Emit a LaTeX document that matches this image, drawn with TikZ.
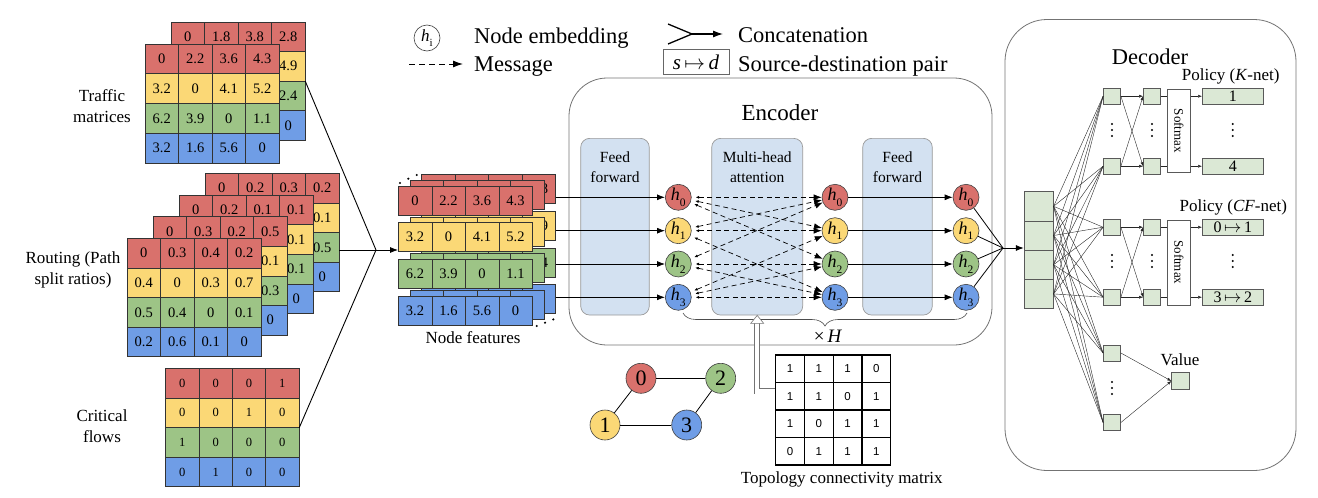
\documentclass[tikz,border=0pt]{standalone}
\usepackage{fontspec}
\setmainfont{Liberation Serif}
\newfontfamily\sansf{Liberation Sans}
\usetikzlibrary{arrows.meta,decorations.pathreplacing,calc}
\definecolor{row0}{HTML}{D9716C}
\definecolor{row1}{HTML}{FBD876}
\definecolor{row2}{HTML}{9DC486}
\definecolor{row3}{HTML}{6F9DE6}
\definecolor{ffblue}{HTML}{D3E1F1}
\definecolor{decg}{HTML}{DBE8D5}
\newcommand{\cellfont}{\fontsize{14.5}{16}\selectfont}
\newcommand{\cellrow}[7]{%
  \foreach \cv [count=\ci from 0] in #7 {
    \node[cell, fill=#6, minimum width=#4pt, minimum height=#5pt] (#1-\ci) at ({#2+(\ci+0.5)*#4},{#3+0.5*#5}) {\cv};
  }}
\newcommand{\cellmat}[6]{%
  \foreach \rv [count=\ri from 0] in {#6} {
    \cellrow{#1-\ri}{#2}{#3+\ri*#5}{#4}{#5}{row\ri}{\rv}
  }}
\newcommand{\hsub}[1]{\textit{h}\raisebox{-0.32em}{\fontsize{11.5}{11.5}\selectfont #1}}
\newcommand{\vdotsat}[3]{%
  \coordinate (#1) at (#2,#3);
  \foreach \dd in {-6,0,6} \fill ($(#1)+(0,\dd)$) circle[radius=1.1pt];}
\begin{document}
\begin{tikzpicture}[x=1pt,y=-1pt,
  cell/.style={draw=black!80, line width=0.6pt, inner sep=0pt, font=\cellfont},
  lbl/.style={align=center, font=\fontsize{17}{21}\selectfont},
  hnode/.style={circle, draw=black!75, line width=0.6pt, minimum size=26pt, inner sep=0pt, font=\fontsize{18}{18}\selectfont},
  block/.style={draw=black!40, fill=ffblue, rounded corners=9pt, line width=0.7pt, inner sep=0pt},
  blocktxt/.style={align=center, font=\fontsize{15.5}{19.5}\selectfont},
  feat/.style={-{Latex[length=8pt,width=6pt]}, line width=0.8pt},
  feeder/.style={line width=0.9pt},
  msgarrow/.style={dash pattern=on 5pt off 3.5pt, line width=0.7pt, {Latex[length=3.5pt,width=3pt]}-{Latex[length=8pt,width=6pt]}},
  frame/.style={draw=black!55, line width=0.8pt, inner sep=0pt},
  gnode/.style={circle, draw=black!75, line width=0.6pt, minimum size=30pt, inner sep=0pt, font=\fontsize{22}{22}\selectfont},
  tmcell/.style={draw=black, line width=1.1pt, fill=white, inner sep=0pt, minimum width=28.75pt, minimum height=27.5pt, font=\sansf\fontsize{11.5}{13}\selectfont},
  dsq/.style={draw=black!65, fill=decg, line width=0.5pt, inner sep=0pt, minimum width=17.3pt, minimum height=15.7pt},
  nn/.style={line width=0.4pt, draw=black!85},
  nnarrow/.style={nn, -{Latex[length=4pt,width=3pt]}},
  legtxt/.style={font=\fontsize{22.5}{24}\selectfont, inner sep=0pt},
  xbrace/.style={decorate, decoration={brace, amplitude=13pt, mirror}, line width=0.6pt, draw=black!70},
  hollow/.style={double=white, double distance=4.5pt, line width=0.6pt, draw=black!55},
  ptxt/.style={font=\fontsize{17}{17}\selectfont},
  otxt/.style={font=\fontsize{16}{16}\selectfont}
]
\useasboundingbox (0,0) rectangle (1318,498);

% ---------- legend ----------
\node[hnode, minimum size=26pt, fill=white, font=\fontsize{17}{17}\selectfont] (leg-h) at (427,38) {\textit{h}\raisebox{-0.3em}{\fontsize{11}{11}\selectfont i}};
\node[legtxt, anchor=base west] (leg-ne) at (474,43) {Node embedding};
\coordinate (leg-m1) at (409,64);
\coordinate (leg-m2) at (463,64);
\draw[dash pattern=on 6pt off 4pt, line width=1pt, -{Latex[length=10pt,width=7pt]}] (leg-m1) -- (leg-m2);
\node[legtxt, anchor=base west] (leg-msg) at (474,71) {Message};
\coordinate (lc1) at (668,24);
\coordinate (lc2) at (668,44);
\coordinate (lcm) at (692,34);
\coordinate (lce) at (723,34);
\draw[line width=1.3pt] (lc1) -- (lcm) -- (lc2);
\draw[line width=1.1pt, -{Latex[length=10pt,width=7pt]}] (lcm) -- (lce);
\node[legtxt, anchor=base west] (leg-cat) at (738,42) {Concatenation};
\node[draw=black!60, line width=0.8pt, minimum width=66pt, minimum height=25pt, inner sep=0pt, font=\fontsize{21}{21}\selectfont] (leg-sd) at (696,62) {\textit{s}\,$\mapsto$\,\textit{d}};
\node[legtxt, anchor=base west] (leg-sdt) at (738,71) {Source-destination pair};

% ---------- input matrices ----------
\cellmat{tb}{171}{22}{33.5}{29.5}{{0,1.8,3.8,2.8},{{},{},{},4.9},{{},{},{},2.4},{{},{},{},0}}
\cellmat{tf}{145}{44}{33.5}{29.75}{{0,2.2,3.6,4.3},{3.2,0,4.1,5.2},{6.2,3.9,0,1.1},{3.2,1.6,5.6,0}}
\node[lbl] (lab-tm) at (102,106) {Traffic\\matrices};

\cellmat{r4}{205}{173.3}{33.5}{29.6}{{0,0.2,0.3,0.2},{{},{},{},0.1},{{},{},{},0.5},{{},{},{},0}}
\cellmat{r3}{179}{195}{33.5}{29.6}{{0,0.2,0.1,0.1},{{},{},{},0.1},{{},{},{},0.1},{{},{},{},0}}
\cellmat{r2}{153}{216.6}{33.5}{29.6}{{0,0.3,0.2,0.5},{{},{},{},0.1},{{},{},{},0.3},{{},{},{},0}}
\cellmat{r1}{127}{238.3}{33.5}{29.6}{{0,0.3,0.4,0.2},{0.4,0,0.3,0.7},{0.5,0.4,0,0.1},{0.2,0.6,0.1,0}}
\node[lbl] (lab-rt) at (73,270) {Routing (Path\\split ratios)};

\renewcommand{\cellfont}{\fontsize{12.5}{14}\selectfont}
\cellmat{cf}{165.7}{368.3}{33.3}{29.6}{{0,0,0,1},{0,0,1,0},{1,0,0,0},{0,1,0,0}}
\renewcommand{\cellfont}{\fontsize{14.5}{16}\selectfont}
\node[lbl] (lab-cf) at (102,426) {Critical\\flows};

% ---------- node features ----------
\cellrow{nf2-0}{421.7}{174.6}{33.5}{29}{row0}{{{},{},{},2.8}}
\cellrow{nf2-1}{421.7}{211.3}{33.5}{29}{row1}{{{},{},{},4.9}}
\cellrow{nf2-2}{421.7}{247.9}{33.5}{29}{row2}{{{},{},{},2.4}}
\cellrow{nf2-3}{421.7}{284.6}{33.5}{29}{row3}{{{},{},{},0}}
\cellrow{nf1-0}{410}{180.3}{33.5}{29}{row0}{{{},{},{},{}}}
\cellrow{nf1-1}{410}{217}{33.5}{29}{row1}{{{},{},{},{}}}
\cellrow{nf1-2}{410}{253.6}{33.5}{29}{row2}{{{},{},{},{}}}
\cellrow{nf1-3}{410}{290.3}{33.5}{29}{row3}{{{},{},{},{}}}
\cellrow{nf0-0}{398.3}{186}{33.5}{29}{row0}{{0,2.2,3.6,4.3}}
\cellrow{nf0-1}{398.3}{222.7}{33.5}{29}{row1}{{3.2,0,4.1,5.2}}
\cellrow{nf0-2}{398.3}{259.3}{33.5}{29}{row2}{{6.2,3.9,0,1.1}}
\cellrow{nf0-3}{398.3}{296}{33.5}{29}{row3}{{3.2,1.6,5.6,0}}
\foreach \xx/\yy in {400/183,408.3/178.7,416.7/175,536.7/326,545/322.7,553.3/319.4}
  \fill (\xx,\yy) circle[radius=1.2pt];
\node[lbl] (lab-nf) at (473,338) {Node features};

\coordinate (mrg) at (376,250);
\draw[feeder] (tb-1-3.south east) -- (mrg);
\draw[feeder] (r4-2-3.east |- mrg) -- (mrg);
\draw[feeder] (cf-1-3.south east) -- (mrg);
\draw[feat] (mrg) -- (nf0-1-0.west |- mrg);

% ---------- encoder ----------
\node[frame, rounded corners=38pt, minimum width=423pt, minimum height=267pt] (enc) at (780.5,211.5) {};
\node[font=\fontsize{23}{23}\selectfont] (enc-t) at (780,113) {Encoder};
\node[block, minimum width=68.6pt, minimum height=176.7pt] (ff1) at (615,226.7) {};
\node[blocktxt] (ff1-t) at (615,167) {Feed\\forward};
\node[block, minimum width=91pt, minimum height=176.7pt] (mha) at (757.2,226.7) {};
\node[blocktxt] (mha-t) at (757.2,167) {Multi-head\\attention};
\node[block, minimum width=69.6pt, minimum height=176.7pt] (ff2) at (897.5,226.7) {};
\node[blocktxt] (ff2-t) at (897.5,167) {Feed\\forward};

\foreach \ri/\yy in {0/197.3,1/230.7,2/264,3/297.3} {
  \node[hnode, fill=row\ri] (c1-\ri) at (678.3,\yy) {\hsub{\ri}};
  \node[hnode, fill=row\ri] (c2-\ri) at (835,\yy) {\hsub{\ri}};
  \node[hnode, fill=row\ri] (c3-\ri) at (966,\yy) {\hsub{\ri}};
}
\coordinate (dmerge) at (1003,248);
\foreach \ri in {0,...,3} {
  \draw[feat] (nf2-\ri-3.east |- c1-\ri) -- (c1-\ri);
  \draw[feat] (c2-\ri) -- (c3-\ri);
  \draw[line width=0.8pt] (c3-\ri) -- (dmerge);
}
\foreach \s/\t in {0/0,0/1,0/2,1/0,1/1,1/3,2/0,2/2,2/3,3/1,3/2,3/3}
  \draw[msgarrow, shorten <=4pt] (c1-\s) -- (c2-\t);

\coordinate (brL) at (683,313);
\coordinate (brR) at (967,313);
\draw[xbrace] (brL) -- (brR);
\node[font=\fontsize{19}{19}\selectfont] (xh) at (828,336) {×\,\textit{H}};

% ---------- topology ----------
\node[gnode, fill=row0] (g0) at (641,378.3) {0};
\node[gnode, fill=row2] (g2) at (720.7,378.3) {2};
\node[gnode, fill=row1] (g1) at (605,425) {1};
\node[gnode, fill=row3] (g3) at (686.7,425) {3};
\draw[line width=0.8pt] (g0) -- (g2);
\draw[line width=0.8pt] (g0) -- (g1);
\draw[line width=0.8pt] (g1) -- (g3);
\draw[line width=0.8pt] (g3) -- (g2);

\foreach \rv [count=\ri from 0] in {{1,1,1,0},{1,1,0,1},{1,0,1,1},{0,1,1,1}} {
  \foreach \cv [count=\ci from 0] in \rv {
    \node[tmcell] (tm-\ri-\ci) at ({775.7+(\ci+0.5)*28.75},{355+(\ri+0.5)*27.5}) {\cv};
  }
}
\node[font=\fontsize{17}{17}\selectfont] (tm-lab) at (841.7,479) {Topology connectivity matrix};
\draw[hollow] ($(tm-1-0.west)+(-0.6,-5)$) -| ($(mha.south)+(0,8)$);
\draw[fill=white, draw=black!55, line width=0.6pt] ($(mha.south)+(-6.5,8)$) -- (mha.south) -- ($(mha.south)+(6.5,8)$) -- cycle;

% ---------- decoder ----------
\node[frame, rounded corners=42pt, minimum width=291pt, minimum height=451pt] (dec) at (1150.5,245) {};
\node[font=\fontsize{22.5}{22.5}\selectfont] (dec-t) at (1150,57) {Decoder};
\foreach \i in {0,...,3}
  \node[dsq, minimum width=29.3pt, minimum height=29.2pt] (dv-\i) at (1038.7,{206.3+29.2*\i}) {};
\draw[feat] (dmerge) -- (dv-1.west |- dmerge);

\node[dsq] (kA1) at (1112,96.2) {};
\node[dsq] (kB1) at (1112,166.2) {};
\node[dsq] (kA2) at (1152,96.2) {};
\node[dsq] (kB2) at (1152,166.2) {};
\node[draw=black!65, fill=white, line width=0.5pt, minimum width=23.4pt, minimum height=83pt, inner sep=0pt] (ksm) at (1179,130.8) {};
\node[rotate=-90, font=\fontsize{13}{13}\selectfont] (ksm-t) at (ksm) {Softmax};
\node[dsq, minimum width=61pt] (ko1) at (1232.8,96.2) {};
\node[otxt] (ko1-t) at (ko1) {1};
\node[dsq, minimum width=61pt] (ko4) at (1232.8,166.2) {};
\node[otxt] (ko4-t) at (ko4) {4};
\vdotsat{kd1}{1112}{130}
\vdotsat{kd2}{1152}{130}
\vdotsat{kd3}{1232.8}{130}
\node[ptxt] (kp) at (1230.7,76.7) {Policy (\textit{K}-net)};

\node[dsq] (fA1) at (1112,227.2) {};
\node[dsq] (fB1) at (1112,297.2) {};
\node[dsq] (fA2) at (1152,227.2) {};
\node[dsq] (fB2) at (1152,297.2) {};
\node[draw=black!65, fill=white, line width=0.5pt, minimum width=23.4pt, minimum height=85pt, inner sep=0pt] (fsm) at (1179,262.3) {};
\node[rotate=-90, font=\fontsize{13}{13}\selectfont] (fsm-t) at (fsm) {Softmax};
\node[dsq, minimum width=61pt] (fo1) at (1232.8,227.2) {};
\node[otxt] (fo1-t) at (fo1) {0\,$\mapsto$\,1};
\node[dsq, minimum width=61pt] (fo2) at (1232.8,297.2) {};
\node[otxt] (fo2-t) at (fo2) {3\,$\mapsto$\,2};
\vdotsat{fd1}{1112}{261}
\vdotsat{fd2}{1152}{261}
\vdotsat{fd3}{1232.8}{261}
\node[ptxt] (fp) at (1233.3,207.7) {Policy (\textit{CF}-net)};

\node[dsq] (vA) at (1112,353) {};
\node[dsq] (vB) at (1112,422.5) {};
\vdotsat{vd1}{1112}{388}
\node[dsq, minimum height=16.6pt] (vout) at (1180.3,381) {};
\node[ptxt] (vlab) at (1180,359.3) {Value};

\foreach \i in {0,...,3}
  \foreach \t in {kA1,kB1,fA1,fB1,vA,vB}
    \draw[nn] (dv-\i.east) -- (\t.west);
\foreach \p in {k,f} {
  \foreach \s in {A,B}
    \foreach \t in {A,B}
      \draw[nnarrow] (\p\s1.east) -- (\p\t2.west);
}
\draw[nn] (kA2.east) -- (kA2 -| ksm.west);
\draw[nn] (kB2.east) -- (kB2 -| ksm.west);
\draw[nnarrow] (ksm.east |- ko1) -- (ko1.west);
\draw[nnarrow] (ksm.east |- ko4) -- (ko4.west);
\draw[nn] (fA2.east) -- (fA2 -| fsm.west);
\draw[nn] (fB2.east) -- (fB2 -| fsm.west);
\draw[nnarrow] (fsm.east |- fo1) -- (fo1.west);
\draw[nnarrow] (fsm.east |- fo2) -- (fo2.west);
\draw[nnarrow] (vA.east) -- (vout.west);
\draw[nnarrow] (vB.east) -- (vout.west);
\end{tikzpicture}
\end{document}
